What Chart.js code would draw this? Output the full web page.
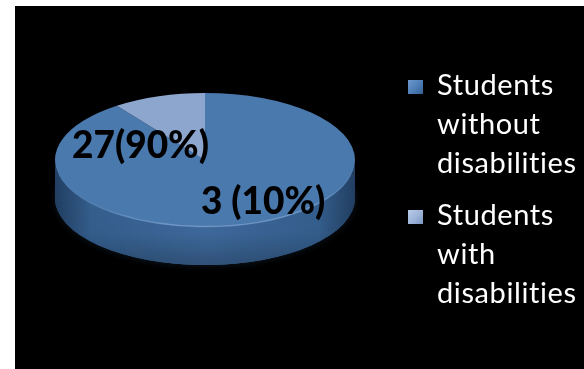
<!DOCTYPE html>
<html>
<head>
<meta charset="utf-8">
<script src="https://cdn.jsdelivr.net/npm/chart.js@4"></script>
<style>
  html, body { margin: 0; padding: 0; background: #ffffff; }
  #wrap { position: relative; width: 584px; height: 369px; }
  canvas { display: block; }
</style>
</head>
<body>
<div id="wrap"><canvas id="c" width="584" height="369"></canvas></div>
<script>
// Group sizes
const categories = ['Students without disabilities', 'Students with disabilities'];
const legendLines = [['Students', 'without', 'disabilities'], ['Students', 'with', 'disabilities']];
const counts = [27, 3];
const sliceColors = ['#4A79AE', '#8DA6CE'];
const sideColors = ['#406CA0', '#7189B0'];

const total = counts.reduce((a, b) => a + b, 0);
const percents = counts.map(v => Math.round(v / total * 100));
const valueLabels = counts.map((v, i) => v + (i === 0 ? '' : ' ') + '(' + percents[i] + '%)');

// Flattened, extruded pie: the library lays out the arcs, the plugin tilts them
const TILT = 0.447;
const DEPTH = 38;
const CENTER_Y = 160;

function frontSpan(s, e) {
  const spans = [];
  for (const k of [-2 * Math.PI, 0, 2 * Math.PI]) {
    const lo = Math.max(s + k, 0), hi = Math.min(e + k, Math.PI);
    if (hi > lo) spans.push([lo, hi]);
  }
  return spans;
}

const pie3d = {
  id: 'pie3d',
  beforeDraw(chart) {
    const ctx = chart.ctx;
    ctx.save();
    ctx.fillStyle = '#ffffff';
    ctx.fillRect(0, 0, chart.width, chart.height);
    ctx.fillStyle = '#000000';
    ctx.fillRect(15, 6, chart.width - 15, chart.height - 6);
    ctx.restore();
  },
  beforeDatasetsDraw(chart) {
    const ctx = chart.ctx;
    const arcs = chart.getDatasetMeta(0).data;
    const a0 = arcs[0];
    const cx = a0.x, r = a0.outerRadius;
    const rx = r, ry = r * TILT;

    // faint glow beneath the disc
    ctx.save();
    ctx.shadowColor = 'rgba(70,110,160,0.2)';
    ctx.shadowBlur = 6;
    ctx.shadowOffsetY = 1;
    ctx.fillStyle = '#2E5580';
    ctx.beginPath();
    ctx.ellipse(cx, CENTER_Y + DEPTH, rx, ry, 0, 0, Math.PI * 2);
    ctx.fill();
    ctx.restore();

    // side wall
    arcs.forEach((arc, i) => {
      frontSpan(arc.startAngle, arc.endAngle).forEach(([lo, hi]) => {
        const g = ctx.createLinearGradient(cx - rx, 0, cx + rx, 0);
        g.addColorStop(0, '#223F63');
        g.addColorStop(0.12, '#35608F');
        g.addColorStop(0.5, sideColors[i]);
        g.addColorStop(0.88, '#35608F');
        g.addColorStop(1, '#223F63');
        ctx.beginPath();
        ctx.ellipse(cx, CENTER_Y, rx, ry, 0, lo, hi);
        ctx.ellipse(cx, CENTER_Y + DEPTH, rx, ry, 0, hi, lo, true);
        ctx.closePath();
        ctx.fillStyle = g;
        ctx.fill();
        // darker lower band
        const gv = ctx.createLinearGradient(0, CENTER_Y, 0, CENTER_Y + ry + DEPTH);
        gv.addColorStop(0, 'rgba(0,0,0,0)');
        gv.addColorStop(0.7, 'rgba(0,0,0,0.04)');
        gv.addColorStop(1, 'rgba(0,0,0,0.25)');
        ctx.fillStyle = gv;
        ctx.fill();
      });
    });

    ctx.save();
    ctx.translate(cx, CENTER_Y);
    ctx.scale(1, TILT);
    ctx.translate(-cx, -a0.y);
  },
  afterDatasetsDraw(chart) {
    const ctx = chart.ctx;
    ctx.restore();
    const a0 = chart.getDatasetMeta(0).data[0];
    const cx = a0.x, rx = a0.outerRadius, ry = rx * TILT;

    // bevel highlight along the front rim of the top face
    ctx.save();
    ctx.lineWidth = 1.5;
    const hg = ctx.createLinearGradient(cx - rx, 0, cx + rx, 0);
    hg.addColorStop(0, 'rgba(150,180,220,0.0)');
    hg.addColorStop(0.4, 'rgba(150,180,220,0.5)');
    hg.addColorStop(0.85, 'rgba(150,180,220,0.5)');
    hg.addColorStop(1, 'rgba(150,180,220,0.0)');
    ctx.strokeStyle = hg;
    ctx.beginPath();
    ctx.ellipse(cx, CENTER_Y, rx - 0.5, ry - 0.5, 0, 0.05, Math.PI - 0.4);
    ctx.stroke();
    ctx.restore();

    // value labels
    ctx.save();
    ctx.fillStyle = '#000000';
    ctx.font = '900 37px Lato';
    ctx.textBaseline = 'alphabetic';
    ctx.textAlign = 'left';
    const spots = [[-133, -2], [-4, 54]];
    valueLabels.forEach((t, i) => {
      ctx.fillText(t, cx + spots[i][0], CENTER_Y + spots[i][1]);
    });
    ctx.restore();

    // legend
    ctx.save();
    ctx.font = '29px Lato';
    ctx.letterSpacing = '0.6px';
    ctx.fillStyle = '#ffffff';
    ctx.textBaseline = 'alphabetic';
    const lx = 408, tx = 437;
    const groupTop = [95, 225];
    legendLines.forEach((lines, i) => {
      const by = groupTop[i] - 15;
      const bg = ctx.createLinearGradient(lx, by, lx + 15, by + 15);
      bg.addColorStop(0, i === 0 ? '#6E98CC' : '#B9CBE6');
      bg.addColorStop(0.5, i === 0 ? '#4F7FB7' : '#9FB5DA');
      bg.addColorStop(1, i === 0 ? '#2F5E93' : '#7894C0');
      ctx.fillStyle = bg;
      ctx.fillRect(lx, by, 15, 14);
      ctx.fillStyle = '#ffffff';
      lines.forEach((ln, j) => ctx.fillText(ln, tx, groupTop[i] + j * 39));
    });
    ctx.restore();
  }
};

new Chart(document.getElementById('c'), {
  type: 'pie',
  data: {
    labels: categories,
    datasets: [{
      data: counts,
      backgroundColor: sliceColors,
      borderWidth: 0,
      clip: false
    }]
  },
  options: {
    responsive: false,
    devicePixelRatio: 1,
    animation: false,
    events: [],
    layout: { padding: { left: 55, right: 229, top: 0, bottom: 0 } },
    plugins: {
      legend: { display: false },
      tooltip: { enabled: false }
    }
  },
  plugins: [pie3d]
});
</script>
</body>
</html>
